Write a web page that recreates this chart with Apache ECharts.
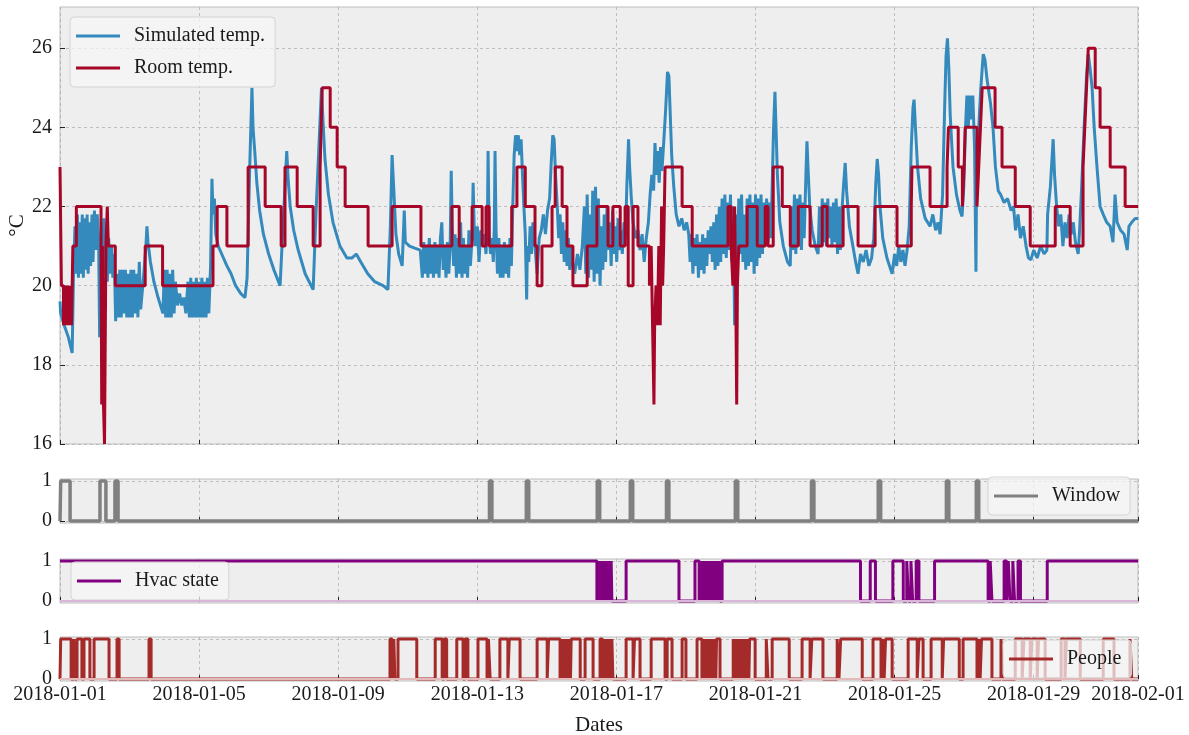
<!DOCTYPE html>
<html><head><meta charset="utf-8">
<script src="https://cdn.jsdelivr.net/npm/echarts@6/dist/echarts.min.js"></script>
<style>html,body{margin:0;padding:0;background:#fff}#c{width:1189px;height:735px}</style>
</head><body><div id="c"></div>
<script>
// x values are days since 2018-01-01 00:00
const dayTicks = [0,4,8,12,16,20,24,28,31];
const tickLabels = ['2018-01-01','2018-01-05','2018-01-09','2018-01-13','2018-01-17','2018-01-21','2018-01-25','2018-01-29','2018-02-01'];
const tempTicks = [16,18,20,22,24,26];

const simulatedTemp = [
[0.00,19.6],[0.02,19.3],[0.12,19.0],[0.24,18.7],[0.35,18.3],[0.39,20.4],[0.43,21.5],[0.46,20.3],[0.50,21.8],[0.53,20.2],[0.57,21.6],[0.60,20.3],[0.64,21.8],[0.67,20.2],[0.71,21.7],[0.74,20.4],[0.78,21.8],[0.81,20.3],[0.85,21.6],[0.88,20.5],[0.92,21.8],[0.95,20.6],[0.99,21.9],[1.03,20.9],[1.07,21.8],[1.11,21.2],[1.14,18.7],[1.18,19.8],[1.22,20.4],[1.26,21.7],[1.29,20.3],[1.33,21.5],[1.36,20.1],[1.40,21.2],[1.44,20.3],[1.48,21.0],[1.52,20.2],[1.56,20.8],[1.60,19.1],
[1.64,20.3],[1.68,19.2],[1.72,20.4],[1.76,19.2],[1.80,20.4],[1.84,19.3],[1.88,20.4],[1.92,19.2],[1.96,20.3],[2.00,19.2],[2.04,20.4],[2.08,19.2],[2.12,20.4],[2.16,19.3],[2.20,20.3],[2.24,19.2],[2.28,20.6],[2.32,19.4],
[2.40,20.2],[2.47,21.0],[2.50,21.5],[2.53,21.1],[2.60,20.6],[2.70,20.1],[2.82,19.7],[2.96,19.3],
[3.00,20.4],[3.04,19.2],[3.08,20.4],[3.12,19.2],[3.16,20.3],[3.20,19.2],[3.24,20.4],[3.28,19.3],[3.32,20.1],
[3.38,19.5],[3.44,19.8],[3.50,19.5],[3.56,19.7],[3.62,19.3],
[3.68,20.1],[3.72,19.2],[3.76,20.2],[3.80,19.2],[3.84,20.1],[3.88,19.2],[3.92,20.2],[3.96,19.2],[4.00,20.1],[4.04,19.2],[4.08,20.2],[4.12,19.2],[4.16,20.1],[4.20,19.2],[4.24,20.2],[4.28,19.3],
[4.33,20.5],[4.37,22.7],[4.40,21.8],[4.44,22.2],[4.48,21.3],[4.55,21.0],[4.65,20.8],[4.80,20.5],[4.92,20.3],[5.05,20.0],[5.20,19.8],[5.32,19.7],[5.38,20.2],
[5.45,22.8],[5.52,25.0],[5.55,24.0],[5.60,23.4],[5.66,22.6],[5.74,21.9],[5.85,21.3],[6.00,20.8],[6.15,20.4],[6.33,20.0],
[6.40,21.3],[6.47,22.5],[6.52,23.4],[6.56,22.7],[6.62,22.0],[6.72,21.4],[6.85,20.9],[7.05,20.3],[7.28,19.9],
[7.36,21.8],[7.45,23.6],[7.52,25.0],[7.56,24.2],[7.62,23.2],[7.72,22.3],[7.85,21.6],[8.05,21.0],[8.25,20.7],[8.40,20.7],[8.52,20.8],[8.65,20.6],[8.85,20.3],[9.05,20.1],[9.29,20.0],[9.43,19.9],
[9.50,21.5],[9.55,23.3],[9.60,22.4],[9.66,21.3],[9.74,20.8],[9.84,20.5],[9.90,21.9],[9.93,21.1],[10.05,21.0],[10.20,20.95],[10.36,20.9],
[10.42,20.2],[10.46,21.1],[10.50,20.3],[10.54,21.0],[10.58,20.2],[10.62,21.2],[10.66,20.3],[10.70,21.0],[10.74,20.2],[10.78,21.1],[10.82,20.3],[10.86,21.0],[10.90,20.2],[10.94,21.2],[10.98,21.6],[11.02,20.4],[11.06,21.0],[11.10,20.2],[11.14,21.1],[11.18,20.3],
[11.22,21.0],[11.25,22.9],[11.28,21.5],[11.32,20.5],[11.36,21.3],[11.40,20.2],[11.44,21.2],[11.48,20.3],[11.52,21.6],[11.56,20.2],[11.60,21.2],[11.64,20.3],[11.68,21.0],[11.72,20.2],[11.76,21.4],[11.80,20.5],
[11.85,21.2],[11.88,22.6],[11.91,21.5],[11.95,21.0],[12.00,21.5],[12.05,20.6],[12.10,21.4],[12.15,21.0],[12.20,21.3],[12.25,20.8],
[12.29,21.5],[12.31,23.4],[12.34,21.3],[12.38,20.8],[12.42,21.2],[12.46,20.6],[12.49,21.5],[12.51,23.4],[12.54,21.4],[12.58,20.3],[12.62,21.2],[12.66,20.2],[12.70,21.0],[12.74,20.2],[12.78,21.1],[12.82,20.3],[12.86,21.0],[12.90,20.2],[12.94,21.2],[12.98,20.5],
[13.02,22.0],[13.06,23.3],[13.10,23.8],[13.14,23.4],[13.18,23.8],[13.22,23.3],[13.26,23.7],[13.30,22.8],[13.34,22.0],[13.38,21.3],[13.42,19.65],[13.44,21.0],[13.48,20.6],[13.52,21.5],[13.56,20.8],[13.60,21.6],[13.66,21.0],[13.72,20.3],[13.78,21.2],[13.84,21.4],[13.90,21.8],[13.96,21.3],[14.02,21.9],[14.08,22.2],
[14.12,23.0],[14.17,23.8],[14.21,23.7],[14.25,22.8],[14.30,22.0],[14.34,21.2],[14.38,21.8],[14.42,20.8],[14.46,21.6],[14.50,20.6],[14.54,21.4],[14.58,20.5],[14.62,21.2],[14.66,20.4],[14.70,21.0],[14.75,20.5],[14.80,20.3],[14.88,20.8],[14.95,20.4],[15.02,21.0],
[15.08,22.0],[15.12,20.3],[15.16,22.3],[15.20,20.2],[15.24,21.8],[15.28,20.4],[15.32,22.4],[15.36,20.1],[15.40,22.5],[15.44,20.3],[15.48,22.2],[15.53,20.0],
[15.57,21.5],[15.61,20.4],[15.65,21.8],[15.69,20.6],[15.73,22.0],[15.77,20.9],[15.81,21.6],[15.85,20.5],[15.89,21.9],[15.93,20.8],[15.97,21.5],[16.01,20.6],[16.05,21.7],[16.09,20.9],[16.13,21.4],[16.17,20.8],[16.22,21.6],[16.26,21.2],
[16.30,22.5],[16.35,23.7],[16.38,23.0],[16.43,22.2],[16.48,21.6],[16.55,21.2],[16.62,21.4],[16.68,20.9],[16.74,21.3],[16.80,20.6],[16.86,21.2],[16.92,21.6],[16.97,22.3],
[17.02,22.8],[17.07,22.4],[17.11,23.6],[17.15,22.8],[17.19,23.4],[17.23,22.6],[17.27,23.5],[17.31,22.9],[17.36,23.6],[17.42,24.5],[17.47,25.4],[17.51,25.3],[17.55,24.3],[17.59,23.3],[17.65,22.5],[17.72,21.8],[17.80,21.5],[17.88,21.7],[17.95,21.4],[18.02,21.6],[18.08,21.3],
[18.12,20.6],[18.16,21.3],[18.20,20.3],[18.24,21.2],[18.28,20.5],[18.32,21.3],[18.36,20.2],[18.40,21.1],[18.44,20.4],[18.48,21.3],[18.52,20.3],[18.56,21.2],[18.60,20.5],[18.64,21.4],[18.68,20.8],[18.72,21.5],[18.76,20.6],[18.80,21.6],[18.84,20.4],[18.88,21.8],[18.92,20.5],[18.96,22.0],
[19.00,20.6],[19.04,22.2],[19.08,20.8],[19.12,22.3],[19.16,20.7],[19.20,22.1],[19.24,20.9],[19.28,22.3],[19.32,20.6],[19.36,22.0],[19.40,19.0],[19.44,21.8],[19.48,20.5],[19.52,22.2],[19.56,20.8],[19.60,22.3],[19.64,20.6],
[19.68,21.8],[19.72,20.4],[19.76,22.2],[19.80,20.5],[19.84,22.3],[19.88,20.6],[19.92,22.1],[19.96,20.3],[20.00,22.3],[20.04,20.5],[20.08,22.2],[20.12,20.7],[20.16,22.3],[20.20,20.8],[20.24,22.1],[20.28,21.0],[20.32,22.2],[20.36,21.1],[20.40,22.1],[20.44,21.2],
[20.48,22.5],[20.52,24.0],[20.56,24.9],[20.59,24.0],[20.63,22.8],[20.70,21.6],[20.80,21.0],[20.92,20.6],[21.00,20.5],
[21.04,22.0],[21.08,20.9],[21.12,22.3],[21.16,20.8],[21.20,22.2],[21.24,21.0],[21.28,22.3],[21.32,20.9],[21.36,22.1],[21.40,21.2],
[21.45,22.8],[21.48,23.65],[21.51,23.0],[21.56,22.0],[21.63,21.4],[21.72,21.0],[21.80,20.8],
[21.84,22.0],[21.88,21.0],[21.92,22.2],[21.96,21.1],[22.00,22.1],[22.04,21.0],[22.08,22.2],[22.12,21.2],[22.16,22.0],[22.20,21.0],[22.24,22.1],[22.28,21.1],[22.32,22.2],[22.36,20.8],[22.40,22.0],[22.44,20.9],[22.48,21.8],
[22.53,22.5],[22.58,23.1],[22.62,22.4],[22.70,21.5],[22.80,21.0],[22.88,20.6],[22.95,20.3],
[23.02,20.8],[23.10,20.6],[23.18,20.9],[23.26,20.5],[23.34,20.7],[23.40,21.2],
[23.46,22.6],[23.50,23.2],[23.54,22.8],[23.58,22.0],[23.66,21.2],[23.78,20.7],[23.93,20.3],
[24.00,20.8],[24.06,20.5],[24.12,21.0],[24.18,20.6],[24.24,20.9],[24.30,20.5],[24.36,20.9],[24.42,21.5],
[24.48,23.5],[24.53,24.5],[24.56,24.7],[24.60,24.0],[24.66,23.0],[24.75,22.2],[24.88,21.7],[25.02,21.5],[25.10,21.8],[25.18,21.4],[25.25,21.6],[25.31,21.3],
[25.38,22.3],[25.44,24.5],[25.48,25.8],[25.52,26.25],[25.56,25.5],[25.60,24.3],[25.68,23.0],[25.78,22.3],[25.88,21.9],[25.94,21.75],
[25.99,22.5],[26.04,24.0],[26.08,24.8],[26.12,24.0],[26.16,24.8],[26.20,24.2],[26.25,24.8],[26.30,23.5],[26.34,20.35],[26.36,23.0],[26.42,24.0],[26.48,25.0],[26.55,25.85],[26.60,25.7],[26.66,25.2],[26.76,24.6],[26.83,24.0],[26.90,23.0],[26.98,22.4],[27.05,22.3],[27.15,22.1],[27.25,22.2],[27.35,21.9],[27.42,22.0],[27.48,21.4],[27.55,21.8],[27.62,21.2],[27.70,21.5],[27.78,21.0],[27.85,20.7],[27.92,20.65],[28.00,20.9],[28.10,20.7],[28.20,21.0],[28.30,20.8],[28.38,20.9],
[28.40,21.8],[28.48,22.5],[28.56,23.7],[28.60,22.8],[28.66,22.0],[28.72,21.5],[28.78,21.8],[28.84,21.0],[28.90,21.6],[28.96,21.2],[29.02,21.8],[29.08,21.3],[29.14,21.6],[29.20,21.1],[29.28,20.8],[29.32,21.4],
[29.38,22.5],[29.45,24.0],[29.52,25.3],[29.57,25.85],[29.62,25.5],[29.68,25.0],[29.74,24.0],[29.82,23.0],[29.91,22.0],[30.00,21.8],[30.10,21.6],[30.20,21.5],[30.28,21.1],[30.34,22.3],[30.40,21.6],[30.50,21.4],[30.60,21.3],[30.69,20.9],[30.74,21.5],[30.82,21.6],[30.92,21.7],[31.00,21.7]
];

const roomTemp = [
[0.00,23],[0.04,20],[0.10,19],[0.14,20],[0.18,19],[0.22,20],[0.26,19],[0.30,20],[0.33,19],[0.37,21],[0.47,22],[1.18,21],[1.20,17],[1.22,21],[1.25,17],[1.28,16],[1.32,21],[1.36,22],[1.39,21],[1.59,20],[2.45,21],[2.95,20],[4.40,21],[4.52,22],[4.80,21],[5.41,23],[5.90,22],[6.36,21],[6.47,23],[6.82,22],[7.28,21],[7.48,23],[7.51,24],[7.54,25],[7.77,24],[7.97,23],[8.20,22],[8.86,21],[9.55,22],[10.38,21],[11.27,22],[11.48,21],[11.85,22],[12.14,21],[12.25,22],[12.34,21],[12.99,22],[13.14,23],[13.38,22],[13.66,21],[13.72,20],[13.86,21],[14.15,22],[14.24,23],[14.44,22],[14.58,21],[14.75,20],[15.16,21],[15.44,22],[15.76,21],[15.90,22],[16.11,21],[16.25,22],[16.34,20],[16.48,22],[16.62,21],[16.95,20],[17.00,21],[17.04,19],[17.08,17],[17.10,19],[17.14,20],[17.18,19],[17.22,21],[17.26,19],[17.30,22],[17.33,20],[17.36,21],[17.40,23],[17.89,22],[18.18,21],[19.21,22],[19.30,21],[19.35,20],[19.40,22],[19.43,20],[19.46,17],[19.48,20],[19.52,21],[19.76,22],[20.05,21],[20.28,22],[20.36,21],[20.51,23],[20.77,22],[21.00,21],[21.23,22],[21.57,21],[21.92,22],[22.06,21],[22.52,22],[22.95,21],[23.44,22],[24.07,21],[24.48,22],[24.50,23],[25.02,22],[25.51,23],[25.55,24],[25.83,23],[25.95,22],[26.00,23],[26.03,24],[26.37,22],[26.42,23],[26.47,24],[26.52,25],[26.89,24],[27.09,23],[27.47,22],[27.90,21],[28.62,22],[29.05,21],[29.42,23],[29.47,24],[29.52,25],[29.57,26],[29.77,25],[29.91,24],[30.20,23],[30.63,22],[31.00,22]
];

const windowState = [
[0,0],[0.02,1],[0.29,0],[1.15,1],[1.32,0],[1.58,1],[1.67,0],[12.35,1],[12.42,0],[13.41,1],[13.48,0],[15.45,1],[15.52,0],[16.40,1],[16.47,0],[17.44,1],[17.51,0],[19.42,1],[19.49,0],[21.61,1],[21.68,0],[23.53,1],[23.60,0],[25.49,1],[25.56,0],[26.35,1],[26.42,0],[31,0]
];

const hvacState = [
[0,1],[15.44,0],[15.46,1],[15.48,0],[15.50,1],[15.52,0],[15.55,1],[15.57,0],[15.60,1],[15.62,0],[15.65,1],[15.67,0],[15.70,1],[15.72,0],[15.75,1],[15.77,0],[15.80,1],[15.82,0],[15.85,1],[15.87,0],[16.28,1],[17.80,0],[18.26,1],[18.38,0],[18.42,1],[18.44,0],[18.48,1],[18.50,0],[18.54,1],[18.56,0],[18.60,1],[18.62,0],[18.66,1],[18.68,0],[18.72,1],[18.74,0],[18.78,1],[18.80,0],[18.84,1],[18.86,0],[18.90,1],[18.92,0],[18.96,1],[18.98,0],[19.04,1],[23.02,0],[23.30,1],[23.45,0],[23.95,1],[24.25,0],[24.35,1],[24.40,0],[24.47,1],[24.52,0],[24.62,1],[24.70,0],[25.15,1],[26.69,0],[26.75,1],[26.80,0],[27.15,1],[27.22,0],[27.27,1],[27.32,0],[27.40,1],[27.45,0],[27.55,1],[27.62,0],[28.39,1],[31,1]
];

const people = [
[0,0],[0.02,1],[0.32,0],[0.40,1],[0.43,0],[0.49,1],[0.63,0],[0.69,1],[0.86,0],[0.98,1],[1.41,0],[1.64,1],[1.70,0],[2.56,1],[2.62,0],
[9.49,1],[9.55,0],[9.60,1],[9.63,0],[9.72,1],[10.26,0],[10.79,1],[10.99,0],[11.05,1],[11.12,0],[11.41,1],[11.59,0],[11.65,1],[11.73,0],[12.02,1],[12.28,0],[12.32,1],[12.37,0],[12.65,1],[12.88,0],[12.92,1],[13.23,0],[13.72,1],[14.01,0],[14.05,1],
[14.38,0],[14.40,1],[14.43,0],[14.45,1],[14.48,0],[14.50,1],[14.53,0],[14.55,1],[14.58,0],[14.60,1],[14.63,0],[14.65,1],[14.68,0],[14.70,1],[14.96,0],[15.10,1],[15.33,0],[15.53,1],
[15.60,0],[15.62,1],[15.65,0],[15.67,1],[15.70,0],[15.72,1],[15.75,0],[15.77,1],[15.80,0],[15.82,1],[15.85,0],[15.87,1],[15.90,0],
[16.28,1],[16.48,0],[16.52,1],[16.68,0],[17.00,1],[17.40,0],[17.46,1],[17.60,0],[17.89,1],[18.00,0],[18.32,1],[18.46,0],[18.48,1],[18.51,0],[18.53,1],[18.56,0],[18.58,1],[18.61,0],[18.63,1],[18.66,0],[18.68,1],[18.71,0],[18.73,1],[18.76,0],[18.78,1],[18.81,0],[18.83,1],[18.86,0],[18.88,1],[18.98,0],
[19.36,1],[19.41,0],[19.43,1],[19.46,0],[19.48,1],[19.51,0],[19.53,1],[19.56,0],[19.58,1],[19.61,0],[19.63,1],[19.66,0],[19.68,1],[19.71,0],[19.73,1],[19.76,0],[19.78,1],[19.81,0],[19.83,1],[19.99,0],
[20.31,1],[20.36,0],[20.48,1],[20.97,0],[21.34,1],[21.57,0],[21.62,1],[21.94,0],[22.35,1],[22.40,0],[22.45,1],[23.07,0],[23.38,1],[23.61,0],[23.65,1],[23.70,0],[23.74,1],[23.93,0],[24.39,1],[24.65,0],[24.70,1],[24.82,0],[25.05,1],[25.37,0],[25.41,1],[25.86,0],[25.97,1],[26.37,0],[26.42,1],[26.46,0],[26.50,1],[26.80,0],[27.06,1],[27.10,0],[27.47,1],[27.67,0],[27.72,1],[27.90,0],[27.95,1],[28.10,0],[28.14,1],[28.33,0],[28.79,1],[28.90,0],[28.94,1],[29.34,0],[30.00,1],[30.31,0],[30.77,1],[30.82,0],[31,0]
];

const FONT = 'Liberation Serif';
const TXT = '#1a1a1a';
const GRIDLINE = {show:true, lineStyle:{color:'#b2b2b2', type:[3,3], width:0.8}};
const L = 60, W = 1078;
const gridBoxes = [[7,437],[479,44],[559,44],[637,44]];

function labelFor(v){
  const i = dayTicks.findIndex(d => Math.abs(d - v) < 1e-6);
  return i >= 0 ? tickLabels[i] : '';
}

const grid = gridBoxes.map(([t,h]) => ({left:L, width:W, top:t, height:h, show:true,
  outerBoundsMode:'none', containLabel:false,
  backgroundColor:'#eeeeee', borderColor:'#bcbcbc', borderWidth:1}));

const xAxis = gridBoxes.map((g,i) => ({
  type:'value', gridIndex:i, min:0, max:31, interval:4,
  axisLine:{show:false},
  axisTick:{show:true, inside:true, length:4, customValues:dayTicks, lineStyle:{color:'#222', width:1}},
  axisLabel:{show:i===3, customValues:dayTicks, formatter:labelFor, fontFamily:FONT, fontSize:20, color:TXT, margin:4},
  splitLine:GRIDLINE,
  name: i===3 ? 'Dates' : '', nameLocation:'middle', nameGap:34,
  nameTextStyle:{fontFamily:FONT, fontSize:21, color:TXT}
}));

const yAxis = [
  {type:'value', gridIndex:0, min:16, max:27.04, interval:2,
   axisLine:{show:false},
   axisTick:{show:true, inside:true, length:5, customValues:tempTicks, lineStyle:{color:'#222'}},
   axisLabel:{customValues:tempTicks, fontFamily:FONT, fontSize:20, color:TXT, margin:8},
   splitLine:GRIDLINE,
   name:'°C', nameLocation:'middle', nameRotate:90, nameGap:32, nameMoveOverlap:false,
   nameTextStyle:{fontFamily:FONT, fontSize:21, color:TXT}}
].concat([1,2,3].map(i => ({
  type:'value', gridIndex:i, min:-0.05, max:1.05,
  axisLine:{show:false},
  axisTick:{show:true, inside:true, length:5, customValues:[0,1], lineStyle:{color:'#222'}},
  axisLabel:{customValues:[0,1], fontFamily:FONT, fontSize:20, color:TXT, margin:8},
  splitLine:GRIDLINE
})));

function lineSeries(name, data, color, width, xi, step, extra){
  return Object.assign({type:'line', name, data, xAxisIndex:xi, yAxisIndex:xi,
    step: step ? 'end' : false, symbol:'none', showSymbol:false,
    lineStyle:{color, width}, itemStyle:{color}, animation:false}, extra || {});
}
function zeroLine(color){
  return {markLine:{silent:true, symbol:'none', label:{show:false},
    lineStyle:{color, width:2, type:'solid'}, data:[{yAxis:0}], animation:false}};
}

const series = [
  lineSeries('Simulated temp.', simulatedTemp, '#348ABD', 3, 0, false),
  lineSeries('Room temp.', roomTemp, '#A60628', 3, 0, true),
  lineSeries('Window', windowState, '#808080', 3.5, 1, true),
  lineSeries('Hvac state', hvacState, '#800080', 3, 2, true, zeroLine('#d9b6d9')),
  lineSeries('People', people, '#A52A2A', 3, 3, true, zeroLine('#e2baba'))
];

function legendBox(names, left, top, gap){
  return {data:names, left, top, orient:'vertical', icon:'rect', itemWidth:44, itemHeight:3,
    itemGap:gap || 12, padding:[9,10,9,6], selectedMode:false,
    backgroundColor:'rgba(246,246,246,0.72)', borderColor:'#d4d4d4', borderWidth:1, borderRadius:4,
    textStyle:{fontFamily:FONT, fontSize:20, color:TXT, padding:[0,0,0,9]}};
}

const option = {
  animation:false,
  grid, xAxis, yAxis, series,
  legend:[
    legendBox(['Simulated temp.','Room temp.'], 70, 17, 12),
    legendBox(['Window'], 988, 477),
    legendBox(['Hvac state'], 71, 562),
    legendBox(['People'], 1003, 640)
  ]
};
const chart = echarts.init(document.getElementById('c'), null, {renderer:'canvas'});
chart.setOption(option);
</script></body></html>
